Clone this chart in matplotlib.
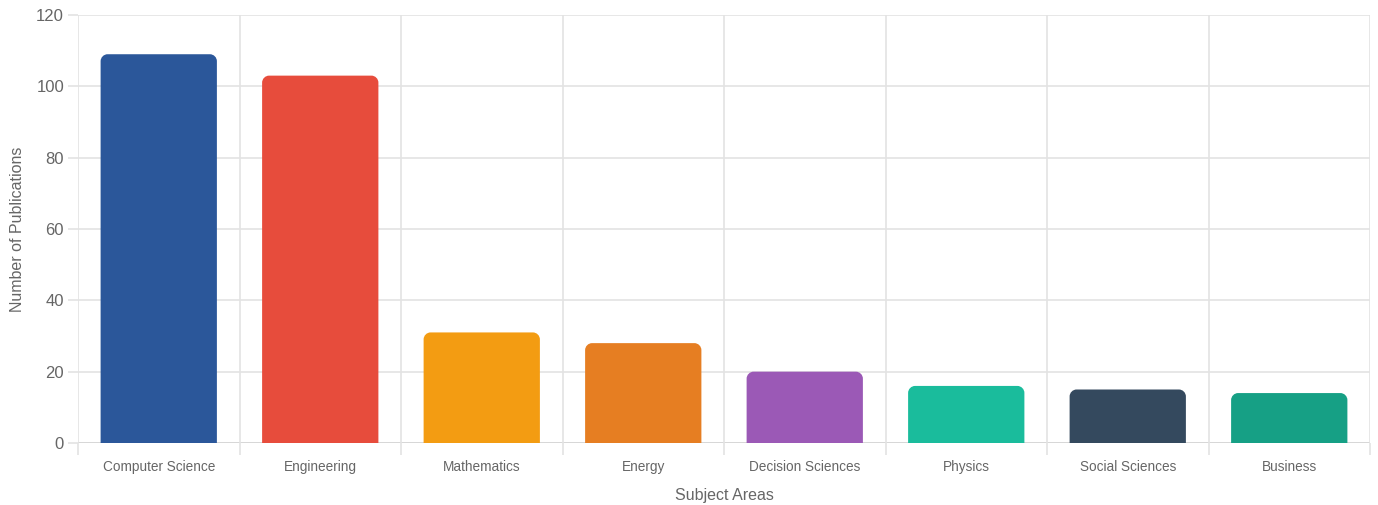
import matplotlib
matplotlib.use("Agg")
import matplotlib.pyplot as plt
from matplotlib.path import Path
from matplotlib.patches import PathPatch
from matplotlib.ticker import FixedLocator

plt.rcParams['font.family'] = ['Liberation Sans', 'DejaVu Sans']

categories = ["Computer Science", "Engineering", "Mathematics", "Energy",
              "Decision Sciences", "Physics", "Social Sciences", "Business"]
publications = [109, 103, 31, 28, 20, 16, 15, 14]
bar_colors = ["#2b579a", "#e74c3c", "#f39c12", "#e67e22",
              "#9b59b6", "#1abc9c", "#34495e", "#16a085"]
y_ticks = [0, 20, 40, 60, 80, 100, 120]

W, H, DPI = 1378, 505, 100
fig = plt.figure(figsize=(W / DPI, H / DPI), dpi=DPI)
left, right, top, bottom = 78, 1370, 15, 443
ax = fig.add_axes([left / W, 1 - bottom / H, (right - left) / W, (bottom - top) / H])

n = len(categories)
ax.set_xlim(-0.5, n - 0.5)
ax.set_ylim(0, 120)

bars = ax.bar(range(n), publications, width=0.72, color=bar_colors)

# Replace square bars with top-rounded ones (radius in pixels)
radius_px = 7
ax_w_px = right - left
ax_h_px = bottom - top
rx = radius_px * n / ax_w_px
ry = radius_px * 120 / ax_h_px
k = 0.5523
for b in bars:
    x0, w, h = b.get_x(), b.get_width(), b.get_height()
    x1 = x0 + w
    verts = [
        (x0, 0), (x0, h - ry),
        (x0, h - ry + k * ry), (x0 + rx - k * rx, h), (x0 + rx, h),
        (x1 - rx, h),
        (x1 - rx + k * rx, h), (x1, h - ry + k * ry), (x1, h - ry),
        (x1, 0), (x0, 0),
    ]
    codes = [Path.MOVETO, Path.LINETO,
             Path.CURVE4, Path.CURVE4, Path.CURVE4,
             Path.LINETO,
             Path.CURVE4, Path.CURVE4, Path.CURVE4,
             Path.LINETO, Path.CLOSEPOLY]
    patch = PathPatch(Path(verts, codes), facecolor=b.get_facecolor(),
                      edgecolor="none", zorder=3)
    ax.add_patch(patch)
    b.set_visible(False)

grid_c = "#e3e3e3"
for s in ax.spines.values():
    s.set_visible(False)

# Horizontal grid
ax.yaxis.set_major_locator(FixedLocator(y_ticks))
for yv in y_ticks:
    ax.axhline(yv, color=("#cfcfcf" if yv == 0 else grid_c), lw=1.2, zorder=1)
ax.tick_params(axis="y", which="major", length=7, width=1.2, color=grid_c,
               labelsize=12, labelcolor="#666666", pad=3)

# Vertical grid at category boundaries
bounds = [i - 0.5 for i in range(n + 1)]
for xb in bounds:
    ax.axvline(xb, color=grid_c, lw=1.2, zorder=1)
ax.xaxis.set_major_locator(FixedLocator(range(n)))
ax.set_xticklabels(categories)
ax.xaxis.set_minor_locator(FixedLocator(bounds))
ax.tick_params(axis="x", which="major", length=0, labelsize=9.8,
               labelcolor="#666666", pad=12.5)
ax.tick_params(axis="x", which="minor", length=8.5, width=1.2, color=grid_c)

ax.set_xlabel("Subject Areas", fontsize=11.5, color="#666666", labelpad=9.5)
ax.set_ylabel("Number of Publications", fontsize=11.5, color="#666666", labelpad=8)

fig.savefig("out.png", dpi=DPI, facecolor="white")
